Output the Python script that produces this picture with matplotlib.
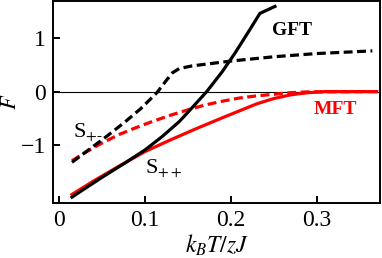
import numpy as np
import matplotlib.pyplot as plt

plt.rcParams['font.family'] = ['Liberation Serif', 'DejaVu Serif']
plt.rcParams['mathtext.fontset'] = 'stix'

# GFT, S++ (black solid)
gft_pp_x = [0.015, 0.03, 0.05, 0.075, 0.1, 0.12, 0.14, 0.155, 0.172, 0.19, 0.205, 0.22, 0.234, 0.2515]
gft_pp_y = [-1.97, -1.81, -1.6, -1.35, -1.09, -0.84, -0.56, -0.3, 0.0, 0.37, 0.72, 1.1, 1.46, 1.59]

# GFT, S+- (black dashed)
gft_pm_x = [0.015, 0.035, 0.055, 0.075, 0.095, 0.114, 0.124, 0.132, 0.14, 0.155, 0.18, 0.2, 0.25, 0.3, 0.365]
gft_pm_y = [-1.32, -1.08, -0.84, -0.59, -0.32, -0.02, 0.19, 0.35, 0.43, 0.48, 0.53, 0.57, 0.65, 0.71, 0.76]

# MFT, S++ (red solid)
mft_pp_x = [0.015, 0.04, 0.07, 0.1, 0.13, 0.16, 0.19, 0.21, 0.23, 0.25, 0.27, 0.29, 0.31, 0.37]
mft_pp_y = [-1.92, -1.67, -1.39, -1.12, -0.9, -0.69, -0.49, -0.36, -0.23, -0.13, -0.06, -0.02, 0.0, 0.0]

# MFT, S+- (red dashed)
mft_pm_x = [0.015, 0.03, 0.05, 0.07, 0.09, 0.11, 0.13, 0.15, 0.17, 0.19, 0.21, 0.23, 0.25, 0.27, 0.29, 0.37]
mft_pm_y = [-1.29, -1.14, -0.96, -0.8, -0.67, -0.55, -0.44, -0.34, -0.25, -0.18, -0.12, -0.08, -0.05, -0.02, -0.005, 0.0]

fig = plt.figure(figsize=(3.82, 2.58), dpi=100)
ax = fig.add_axes([0.139, 0.213, 0.856, 0.785])

dash = (0, (2.8, 1.4))
ax.axhline(0, color='black', lw=0.8)
ax.plot(mft_pp_x, mft_pp_y, color='red', lw=2.3)
ax.plot(mft_pm_x, mft_pm_y, color='red', lw=2.3, linestyle=dash)
ax.plot(gft_pm_x, gft_pm_y, color='black', lw=2.3, linestyle=dash)
ax.plot(gft_pp_x, gft_pp_y, color='black', lw=2.3)

ax.text(0.248, 1.05, 'GFT', fontsize=14, fontweight='bold', color='black')
ax.text(0.296, -0.415, 'MFT', fontsize=14, fontweight='bold', color='red')
ax.text(0.016, -0.86, r'S$_{+\text{-}}$', fontsize=16, color='black')
ax.text(0.1, -1.53, r'S$_{++}$', fontsize=16, color='black')

ax.set_xlim(-0.007, 0.374)
ax.set_ylim(-2.08, 1.7)
ax.set_xticks([0, 0.1, 0.2, 0.3])
ax.set_xticklabels(['0', '0.1', '0.2', '0.3'])
ax.set_yticks([-1, 0, 1])
ax.set_yticklabels(['\u22121', '0', '1'])
ax.tick_params(direction='in', length=5, width=1.4, labelsize=17, pad=5)
for s in ax.spines.values():
    s.set_linewidth(1.4)

ax.set_xlabel(r'$k_BT/zJ$', fontsize=17, labelpad=1)
ax.set_ylabel(r'$F$', fontsize=16, labelpad=0)

fig.savefig('out.png', dpi=100)
